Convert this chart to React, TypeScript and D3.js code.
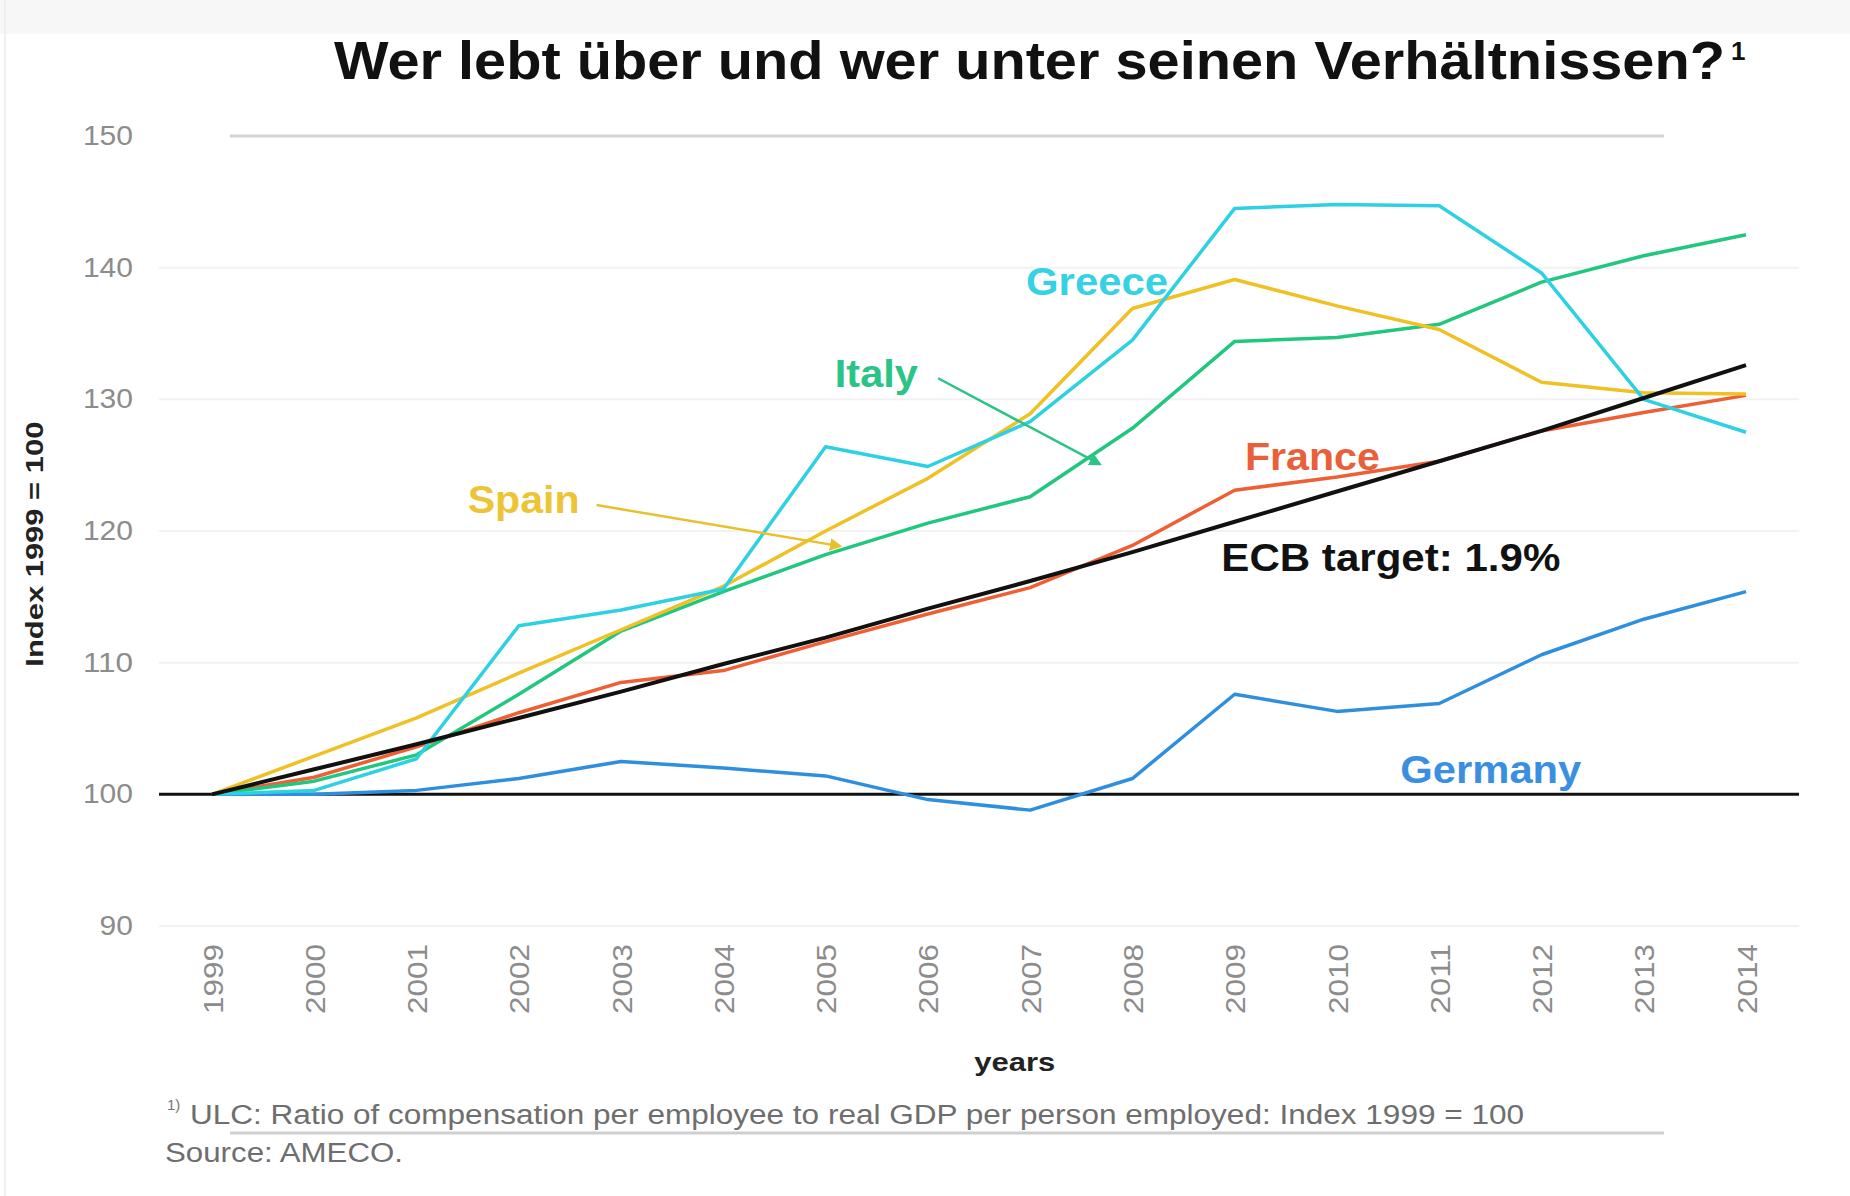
import React, { useEffect, useRef } from 'react';
import * as d3 from 'd3';

// Unit labour costs, index 1999 = 100
const years = [1999, 2000, 2001, 2002, 2003, 2004, 2005, 2006, 2007, 2008, 2009, 2010, 2011, 2012, 2013, 2014];
const greece = [100, 100.3, 102.7, 112.8, 114.0, 115.6, 126.4, 124.9, 128.3, 134.5, 144.5, 144.8, 144.7, 139.6, 130.0, 127.5];
const spain = [100, 102.9, 105.8, 109.2, 112.5, 115.8, 120.0, 124.0, 128.9, 136.9, 139.1, 137.1, 135.3, 131.3, 130.5, 130.4];
const italy = [100, 101.0, 103.0, 107.6, 112.4, 115.4, 118.2, 120.6, 122.6, 127.8, 134.4, 134.7, 135.7, 138.9, 140.9, 142.5];
const france = [100, 101.3, 103.6, 106.2, 108.5, 109.4, 111.6, 113.7, 115.7, 118.9, 123.1, 124.1, 125.3, 127.6, 129.0, 130.3];
const germany = [100, 100.0, 100.3, 101.2, 102.5, 102.0, 101.4, 99.6, 98.8, 101.2, 107.6, 106.3, 106.9, 110.6, 113.3, 115.4];
// ECB 1.9% target path
const ecb = [100, 101.9, 103.8, 105.8, 107.8, 109.9, 111.9, 114.1, 116.2, 118.4, 120.7, 123.0, 125.3, 127.6, 130.1, 132.6];

const yTicks = [90, 100, 110, 120, 130, 140, 150];

const series = [
  { name: 'Germany', values: germany, color: '#2f8fdf' },
  { name: 'France', values: france, color: '#ee5f34' },
  { name: 'Italy', values: italy, color: '#22c77f' },
  { name: 'Spain', values: spain, color: '#efc124' },
  { name: 'Greece', values: greece, color: '#2ed1e2' },
];

// label anchors in data units: [year, value]
const labels = [
  { text: 'Greece', at: [2006.96, 137.9], color: '#36d2e3', len: 142 },
  { text: 'Italy', at: [2005.09, 130.9], color: '#2bc487', len: 83 },
  { text: 'Spain', at: [2001.5, 121.36], color: '#eec437', len: 112 },
  { text: 'France', at: [2009.1, 124.62], color: '#ea5f3a', len: 135 },
  { text: 'ECB target: 1.9%', at: [2008.87, 116.96], color: '#111', len: 339 },
  { text: 'Germany', at: [2010.62, 100.86], color: '#3b8fe0', len: 181 },
];

const arrows = [
  { from: [2006.1, 131.6], to: [2007.68, 125.08], color: '#2bc487' },
  { from: [2002.76, 121.97], to: [2005.14, 118.85], color: '#e8c02c' },
];

const W = 1850;
const H = 1196;
const FONT = '"Liberation Sans", Arial, sans-serif';

const App: React.FC = () => {
  const svgRef = useRef<SVGSVGElement>(null);

  useEffect(() => {
    if (!svgRef.current) return;
    const svg = d3.select(svgRef.current);
    svg.selectAll('*').remove();

    const x = d3.scaleLinear().domain([1999, 2014]).range([212, 1746]);
    const y = d3.scaleLinear().domain([90, 150]).range([926, 136]);

    svg.append('rect').attr('width', W).attr('height', H).attr('fill', '#fff');
    // faint band at the top of the slide
    svg.append('rect').attr('x', 0).attr('y', 0).attr('width', W).attr('height', 34).attr('fill', '#f7f7f7');
    svg.append('line').attr('x1', 5).attr('x2', 5).attr('y1', 0).attr('y2', H)
      .attr('stroke', '#f0f0f0').attr('stroke-width', 2);

    // title
    svg.append('text')
      .attr('x', 334).attr('y', 79)
      .attr('font-family', FONT).attr('font-weight', 'bold').attr('font-size', 54)
      .attr('fill', '#111')
      .attr('textLength', 1391).attr('lengthAdjust', 'spacingAndGlyphs')
      .text('Wer lebt über und wer unter seinen Verhältnissen?');
    svg.append('text')
      .attr('x', 1731).attr('y', 60)
      .attr('font-family', FONT).attr('font-weight', 'bold').attr('font-size', 26)
      .attr('fill', '#111')
      .text('1');

    // gridlines
    const grid = svg.append('g');
    yTicks.filter(t => t !== 100 && t !== 150).forEach(t => {
      grid.append('line')
        .attr('x1', 159).attr('x2', 1799)
        .attr('y1', y(t)).attr('y2', y(t))
        .attr('stroke', '#f2f2f2').attr('stroke-width', 2);
    });
    grid.append('line')
      .attr('x1', 230).attr('x2', 1664)
      .attr('y1', y(150)).attr('y2', y(150))
      .attr('stroke', '#d4d4d4').attr('stroke-width', 3);

    // y axis
    const yAxis = svg.append('g')
      .attr('transform', 'translate(133,0)')
      .call(d3.axisLeft(y).tickValues(yTicks).tickSize(0).tickPadding(0));
    yAxis.select('.domain').remove();
    yAxis.selectAll<SVGTextElement, number>('text')
      .attr('font-family', FONT).attr('font-size', 27).attr('fill', '#8c8c8c')
      .attr('textLength', d => String(d).length * 16.7)
      .attr('lengthAdjust', 'spacingAndGlyphs');

    // x axis
    const xAxis = svg.append('g')
      .attr('transform', 'translate(0,944)')
      .call(d3.axisBottom(x).tickValues(years).tickFormat(d3.format('d')).tickSize(0));
    xAxis.select('.domain').remove();
    xAxis.selectAll('text')
      .attr('font-family', FONT).attr('font-size', 28).attr('fill', '#8c8c8c')
      .attr('x', 0).attr('y', 0).attr('dy', '0.36em')
      .attr('transform', 'rotate(-90)')
      .attr('text-anchor', 'end')
      .attr('textLength', 70).attr('lengthAdjust', 'spacingAndGlyphs');

    // axis titles
    svg.append('text')
      .attr('transform', `translate(43,${y(119)}) rotate(-90)`)
      .attr('text-anchor', 'middle')
      .attr('font-family', FONT).attr('font-weight', 'bold').attr('font-size', 24)
      .attr('fill', '#222')
      .attr('textLength', 245).attr('lengthAdjust', 'spacingAndGlyphs')
      .text('Index 1999 = 100');
    svg.append('text')
      .attr('x', x(2006.85)).attr('y', 1071)
      .attr('text-anchor', 'middle')
      .attr('font-family', FONT).attr('font-weight', 'bold').attr('font-size', 26)
      .attr('fill', '#222')
      .attr('textLength', 81).attr('lengthAdjust', 'spacingAndGlyphs')
      .text('years');

    // baseline at 100
    svg.append('line')
      .attr('x1', 159).attr('x2', 1799)
      .attr('y1', y(100)).attr('y2', y(100))
      .attr('stroke', '#111').attr('stroke-width', 3);

    const line = d3.line<number>()
      .x((_, i) => x(years[i]))
      .y(d => y(d));

    series.forEach(s => {
      svg.append('path')
        .attr('d', line(s.values))
        .attr('fill', 'none')
        .attr('stroke', s.color)
        .attr('stroke-width', 3.5)
        .attr('stroke-linejoin', 'round');
    });

    // ECB target line
    svg.append('path')
      .attr('d', line(ecb))
      .attr('fill', 'none')
      .attr('stroke', '#111')
      .attr('stroke-width', 4);

    // arrows
    const defs = svg.append('defs');
    arrows.forEach((a, i) => {
      defs.append('marker')
        .attr('id', `arrow${i}`)
        .attr('viewBox', '0 0 10 10')
        .attr('refX', 8).attr('refY', 5)
        .attr('markerWidth', 5).attr('markerHeight', 5)
        .attr('orient', 'auto')
        .append('path').attr('d', 'M0,0 L10,5 L0,10 z').attr('fill', a.color);
      svg.append('line')
        .attr('x1', x(a.from[0])).attr('y1', y(a.from[1]))
        .attr('x2', x(a.to[0])).attr('y2', y(a.to[1]))
        .attr('stroke', a.color).attr('stroke-width', 2.5)
        .attr('marker-end', `url(#arrow${i})`);
    });

    // labels
    labels.forEach(l => {
      svg.append('text')
        .attr('x', x(l.at[0])).attr('y', y(l.at[1]))
        .attr('font-family', FONT).attr('font-weight', 'bold').attr('font-size', 38)
        .attr('fill', l.color)
        .attr('textLength', l.len).attr('lengthAdjust', 'spacingAndGlyphs')
        .text(l.text);
    });

    // footnote
    svg.append('text')
      .attr('x', 167).attr('y', 1110)
      .attr('font-family', FONT).attr('font-size', 15).attr('fill', '#777')
      .text('1)');
    svg.append('text')
      .attr('x', 190).attr('y', 1124)
      .attr('font-family', FONT).attr('font-size', 27).attr('fill', '#6e6e6e')
      .attr('textLength', 1334).attr('lengthAdjust', 'spacingAndGlyphs')
      .text('ULC: Ratio of compensation per employee to real GDP per person employed: Index 1999 = 100');
    svg.append('line')
      .attr('x1', 230).attr('x2', 1664).attr('y1', 1133).attr('y2', 1133)
      .attr('stroke', '#cfcfcf').attr('stroke-width', 3);
    svg.append('text')
      .attr('x', 165).attr('y', 1162)
      .attr('font-family', FONT).attr('font-size', 27).attr('fill', '#6e6e6e')
      .attr('textLength', 238).attr('lengthAdjust', 'spacingAndGlyphs')
      .text('Source: AMECO.');
  }, []);

  return (
    <svg
      ref={svgRef}
      width={W}
      height={H}
      style={{ position: 'absolute', left: 0, top: 0, display: 'block' }}
    />
  );
};

export default App;
